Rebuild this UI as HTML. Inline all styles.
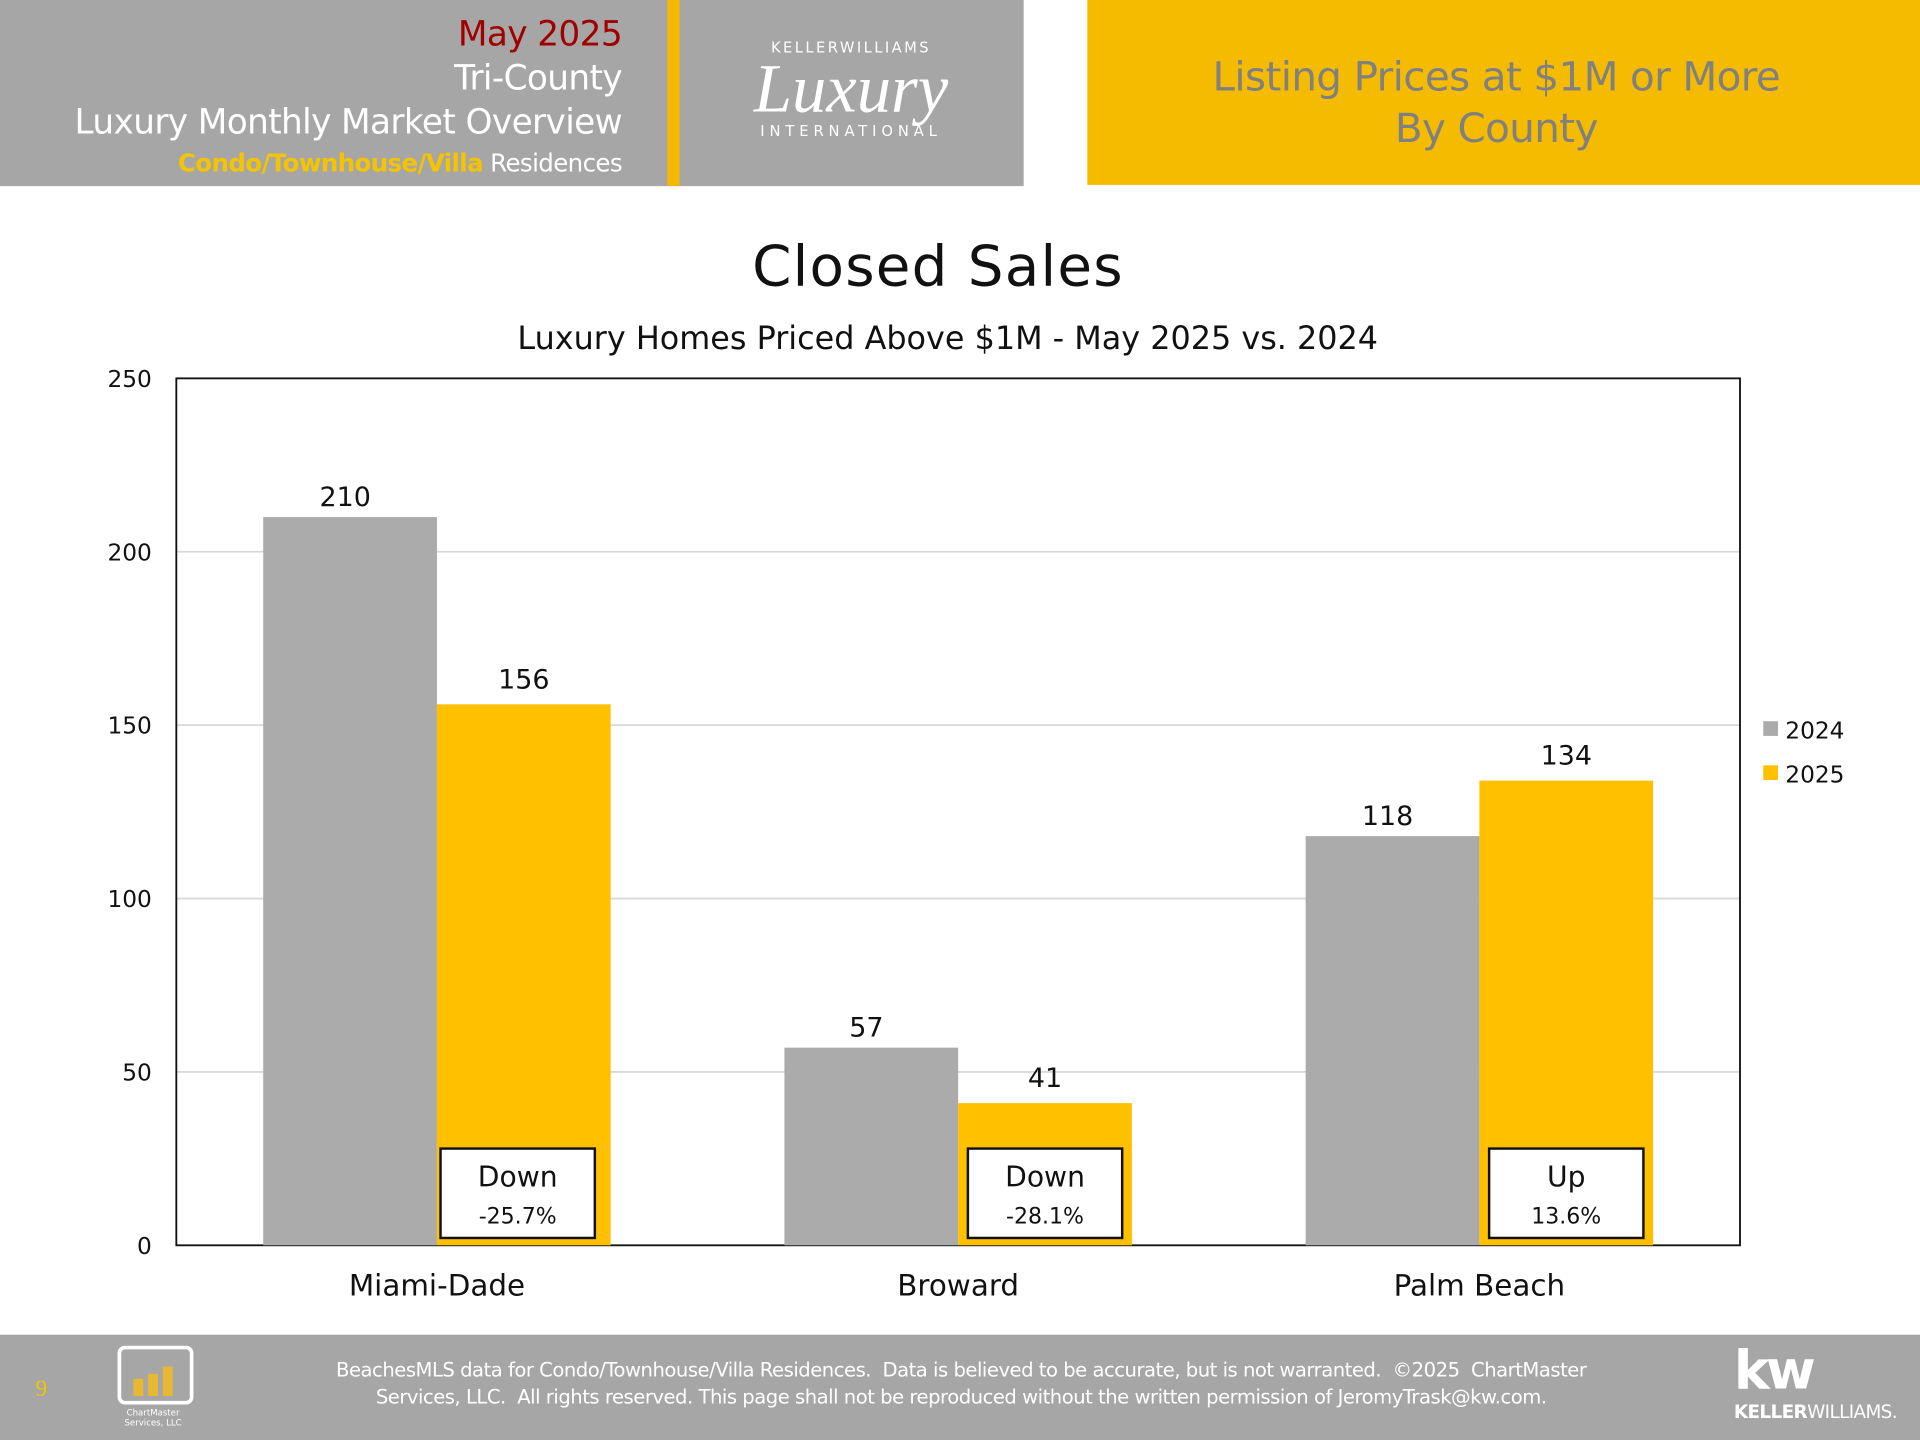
<!DOCTYPE html>
<html><head><meta charset="utf-8"><style>
html,body{margin:0;padding:0;width:1920px;height:1440px;overflow:hidden;background:#fff}
#s{position:absolute;left:0;top:0;width:1568px;height:1176px;transform:scale(1.22449);transform-origin:0 0;font-family:"DejaVu Sans","Liberation Sans",sans-serif}
.a{position:absolute}
</style></head><body>
<div id="s">
<div class="a" style="left:0;top:0;width:836px;height:152px;background:#a6a6a6"></div>
<div class="a" style="left:545px;top:0;width:10px;height:152px;background:#f5b800"></div>
<div class="a" style="right:1060px;top:10px;text-align:right;color:#fff;font-size:28px;line-height:36px;white-space:nowrap;letter-spacing:-0.5px">
<div style="color:#a00000">May 2025</div>
<div>Tri-County</div>
<div>Luxury Monthly Market Overview</div>
<div style="font-size:20px;line-height:30px"><span style="color:#f5c400;font-weight:bold">Condo/Townhouse/Villa</span> Residences</div>
</div>
<div class="a" style="left:560px;top:32px;width:270px;text-align:center;color:#fff">
<div style="font-size:12px;letter-spacing:2px">KELLERWILLIAMS</div>
<div style="font-family:'Liberation Serif',serif;font-style:italic;font-size:56px;line-height:54px">Luxury</div>
<div style="font-size:12px;letter-spacing:4px">INTERNATIONAL</div>
</div>
<div class="a" style="left:888px;top:0;width:680px;height:151px;background:#f5bb00"></div>
<div class="a" style="left:888px;top:42px;width:668px;text-align:center;color:#808080;font-size:33px;line-height:42px;letter-spacing:-0.5px">Listing Prices at $1M or More<br>By County</div>
<div class="a" style="left:0;top:190px;width:1532px;text-align:center;font-size:46px;color:#111;letter-spacing:1px">Closed Sales</div>
<div class="a" style="left:0;top:262px;width:1548px;text-align:center;font-size:26px;color:#111">Luxury Homes Priced Above $1M - May 2025 vs. 2024</div>
<svg class="a" id="chart" style="left:0;top:0" width="1568" height="1176"></svg>
<div class="a" style="left:0;top:1090px;width:1568px;height:86px;background:#a6a6a6"></div>
<div class="a" style="left:29px;top:1124px;color:#f5c400;font-size:19px;font-family:'Liberation Serif',serif">9</div>
<div class="a" style="left:96px;top:1099px;width:56px;height:42px;border:3px solid #fff;border-radius:6px"><div style="position:absolute;left:10px;bottom:4px;width:8px;height:14px;background:#e8b830"></div><div style="position:absolute;left:22px;bottom:4px;width:8px;height:18px;background:#e8b830"></div><div style="position:absolute;left:34px;bottom:4px;width:8px;height:24px;background:#e8b830"></div></div>
<div class="a" style="left:92px;top:1150px;width:66px;text-align:center;color:#fff;font-size:7px;line-height:8px">ChartMaster<br>Services, LLC</div>
<div class="a" style="left:205px;top:1108px;width:1160px;text-align:center;color:#fff;font-size:16px;line-height:22px;letter-spacing:-0.4px">BeachesMLS data for Condo/Townhouse/Villa Residences.&nbsp; Data is believed to be accurate, but is not warranted.&nbsp; ©2025&nbsp; ChartMaster<br>Services, LLC.&nbsp; All rights reserved. This page shall not be reproduced without the written permission of JeromyTrask@kw.com.</div>
<div class="a" style="left:1416px;top:1094px;color:#fff;font-size:44px;font-weight:bold;letter-spacing:-3px">kw</div>
<div class="a" style="left:1416px;top:1144px;color:#fff;font-size:15px;letter-spacing:-0.5px"><b>KELLER</b>WILLIAMS.</div>
</div>
<script>
const categories=["Miami-Dade","Broward","Palm Beach"];
const values2024=[210,57,118];
const values2025=[156,41,134];
const changeDir=["Down","Down","Up"];
const changePct=["-25.7%","-28.1%","13.6%"];
const yTicks=[0,50,100,150,200,250];
const NS="http://www.w3.org/2000/svg";
const svg=document.getElementById('chart');
const X0=144,X1=1421,Y0=1017,Y1=309,YMAX=250;
const y=v=>Y0-(v/YMAX)*(Y0-Y1);
const gw=(X1-X0)/categories.length;
const cx=i=>X0+gw*(i+0.5);
const bw=gw/3;
function mk(tag,attrs,txt){const e=document.createElementNS(NS,tag);for(const k in attrs)e.setAttribute(k,attrs[k]);if(txt!==undefined)e.textContent=txt;svg.appendChild(e);return e;}
const F='"DejaVu Sans","Liberation Sans",sans-serif';
yTicks.forEach(t=>{
 if(t>0&&t<YMAX){const g=mk('line',{x1:X0,x2:X1,y1:y(t),y2:y(t),stroke:'#d9d9d9','stroke-width':1.5});
 
 }
 const l=mk('text',{x:X0-20,y:y(t)+7,'text-anchor':'end','font-size':19,'font-family':F,fill:'#111'},t);
 
 
});
const frame=mk('rect',{x:X0,y:Y1,width:X1-X0,height:Y0-Y1,fill:'none',stroke:'#111','stroke-width':1.5});


categories.forEach((c,i)=>{
 const b1=mk('rect',{x:cx(i)-bw,y:y(values2024[i]),width:bw,height:Y0-y(values2024[i]),fill:'#ababab'});
 
 
 const b2=mk('rect',{x:cx(i),y:y(values2025[i]),width:bw,height:Y0-y(values2025[i]),fill:'#ffc000'});
 
 
 const l1=mk('text',{x:cx(i)-bw/2-4,y:y(values2024[i])-9,'text-anchor':'middle','font-size':22,'font-family':F,fill:'#111'},values2024[i]);
 
 
 const l2=mk('text',{x:cx(i)+bw/2,y:y(values2025[i])-13,'text-anchor':'middle','font-size':22,'font-family':F,fill:'#111'},values2025[i]);
 
 
 const cl=mk('text',{x:cx(i),y:Y0+41,'text-anchor':'middle','font-size':24,'font-family':F,fill:'#111'},c);
 
 
 const bx=cx(i)+bw/2-(i===0?5:0);
 const box=mk('rect',{x:bx-63,y:938,width:126,height:73,fill:'#fff',stroke:'#111','stroke-width':2});
 
 
 const d=mk('text',{x:bx,y:969,'text-anchor':'middle','font-size':23,'font-family':F,fill:'#111'},changeDir[i]);
 
 
 const p=mk('text',{x:bx,y:999,'text-anchor':'middle','font-size':18,'font-family':F,fill:'#111'},changePct[i]);
 
 
});
[["2024",'#ababab',597],["2025",'#ffc000',633]].forEach(([n,c,yy])=>{
 const s=mk('rect',{x:1440,y:yy-8,width:12,height:12,fill:c});
 
 
 const t=mk('text',{x:1458,y:yy+6,'font-size':19,'font-family':F,fill:'#111'},n);
 
 
});
</script>
</body></html>
